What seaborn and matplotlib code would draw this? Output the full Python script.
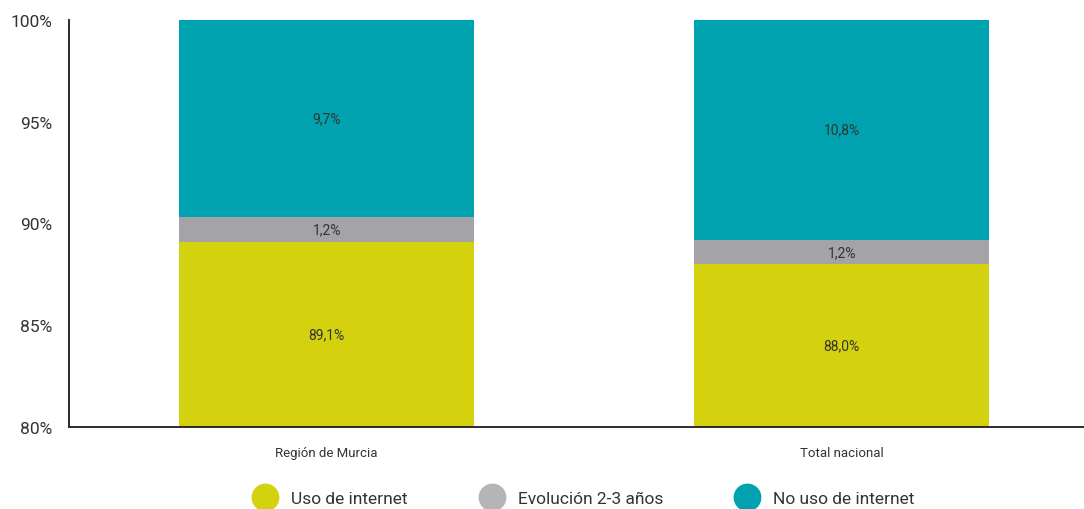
import numpy as np
import pandas as pd
import matplotlib
matplotlib.use("Agg")
import matplotlib.pyplot as plt
from matplotlib.lines import Line2D
import seaborn as sns


categorias = ["Región de Murcia", "Total nacional"]
uso = [89.1, 88.0]
evolucion = [1.2, 1.2]
no_uso = [9.7, 10.8]

series = ["Uso de internet", "Evolución 2-3 años", "No uso de internet"]
colores = ["#D4D20F", "#A4A4A8", "#00A2B0"]
colores_leyenda = ["#D4D20F", "#B5B5B8", "#00A2B0"]

Y_MIN = 80


def main():

    sns.set_style("white")
    plt.rcParams["font.family"] = ["Roboto", "DejaVu Sans"]

    df = pd.DataFrame({
        "categoria": categorias,
        "uso": uso,
        "evolucion": evolucion,
        "no_uso": no_uso,
    })
    df["top_uso"] = df["uso"]
    df["top_evol"] = df["uso"] + df["evolucion"]
    df["top_total"] = df["top_evol"] + df["no_uso"]

    fig = plt.figure(figsize=(10.84, 5.10), dpi=100)
    ax = fig.add_axes([0.0637, 0.161, 0.9363, 0.798])

    # barras apiladas: se dibuja de atras hacia delante
    for col, color in zip(["top_total", "top_evol", "top_uso"], colores[::-1]):
        sns.barplot(
            data=df, x="categoria", y=col, color=color,
            width=0.573, saturation=1, ax=ax, errorbar=None,
            linewidth=0, edgecolor="none",
        )

    ax.set_xlim(-0.5, 1.47)
    ax.set_ylim(Y_MIN, 100)
    ax.set_yticks(np.arange(80, 101, 5))
    ax.set_yticklabels([f"{v}%" for v in range(80, 101, 5)],
                       fontsize=12.5, color="#333333")
    ax.tick_params(axis="y", length=0, pad=12)
    ax.tick_params(axis="x", length=0, pad=14, labelsize=9.5,
                   labelcolor="#333333")
    ax.set_xlabel("")
    ax.set_ylabel("")

    for s in ["top", "right"]:
        ax.spines[s].set_visible(False)
    for s in ["left", "bottom"]:
        ax.spines[s].set_color("#2b2b2b")
        ax.spines[s].set_linewidth(1.4)

    # etiquetas centradas en la parte visible de cada segmento
    for i, row in df.iterrows():
        tramos = [
            (Y_MIN, row["top_uso"], row["uso"]),
            (row["top_uso"], row["top_evol"], row["evolucion"]),
            (row["top_evol"], row["top_total"], row["no_uso"]),
        ]
        for lo, hi, v in tramos:
            ax.text(i, (lo + hi) / 2, f"{v:.1f}%".replace(".", ","),
                    ha="center", va="center", fontsize=10, color="#333333")

    handles = [
        Line2D([], [], marker="o", linestyle="", markersize=19,
               markerfacecolor=c, markeredgecolor=c)
        for c in colores_leyenda
    ]
    fig.legend(
        handles, series, loc="lower center", bbox_to_anchor=(0.536, -0.025),
        ncol=3, frameon=False, fontsize=12.5, handletextpad=0.5,
        columnspacing=3.85, labelcolor="#333333",
    )

    fig.savefig("out.png", dpi=100)
    plt.close(fig)


if __name__ == "__main__":
    main()
